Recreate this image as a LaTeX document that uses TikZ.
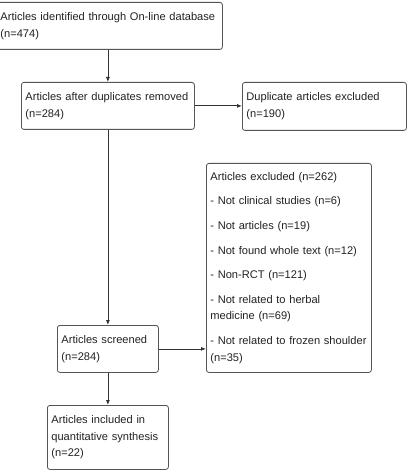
\documentclass[tikz,border=0pt]{standalone}
\usepackage{fontspec}
\setmainfont{Liberation Sans}
\usetikzlibrary{arrows.meta}
\definecolor{boxgray}{HTML}{555555}
\definecolor{linegray}{HTML}{333333}
\definecolor{txt}{HTML}{222222}
\begin{document}
\begin{tikzpicture}[x=1pt,y=-1pt,
  box/.style={draw=boxgray, rounded corners=2.5pt, line width=0.8pt, anchor=north west,
    align=left, inner xsep=4pt, inner ysep=2pt, text=txt,
    font=\fontsize{11.1}{16.6}\selectfont},
  conn/.style={draw=linegray, line width=0.8pt, -{Latex[length=5pt,width=4pt]}}]
\fill[white] (0,0) rectangle (410,470);
\useasboundingbox (0,0) rectangle (410,470);

\node[box, minimum width=226pt, minimum height=47pt, text width=218pt] (b1) at (-4,2)
  {Articles identified through On-line database\\(n=474)};
\node[box, minimum width=173pt, minimum height=47pt, text width=165pt] (b2) at (21,82)
  {Articles after duplicates removed\\(n=284)};
\node[box, minimum width=164pt, minimum height=48pt, text width=156pt] (b3) at (242,82)
  {Duplicate articles excluded\\(n=190)};
\node[box, minimum width=164pt, minimum height=209pt, text width=157pt] (b4) at (206,163)
  {Articles excluded (n=262)\\[8pt]
   - Not clinical studies (n=6)\\[8pt]
   - Not articles (n=19)\\[8pt]
   - Not found whole text (n=12)\\[8pt]
   - Non-RCT (n=121)\\[8pt]
   - Not related to herbal\\medicine (n=69)\\[8pt]
   - Not related to frozen shoulder\\(n=35)};
\node[box, minimum width=101pt, minimum height=47pt, text width=93pt] (b5) at (57,325)
  {Articles screened\\(n=284)};
\node[box, minimum width=121pt, minimum height=64pt, text width=113pt] (b6) at (47,405)
  {Articles included in\\quantitative synthesis\\(n=22)};

\draw[conn] (b2.north |- b1.south) -- (b2.north);
\draw[conn] (b2.east) -- (b3.west |- b2.east);
\draw[conn] (b2.south) -- (b5.north);
\draw[conn] (b5.east) -- (b4.west |- b5.east);
\draw[conn] (b5.south) -- (b6.north);
\end{tikzpicture}
\end{document}
